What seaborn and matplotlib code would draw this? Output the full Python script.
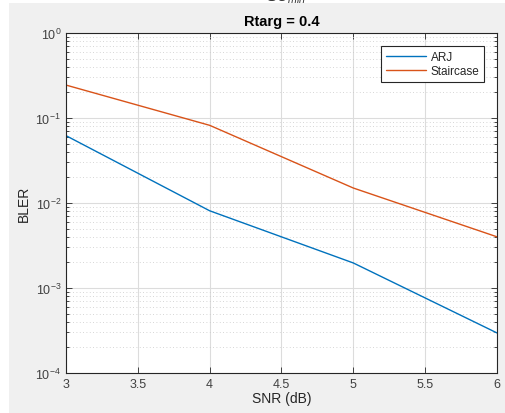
# BLER vs SNR, Rtarg = 0.4 (MATLAB-looking figure)
import numpy as np
import pandas as pd
import matplotlib
matplotlib.use("Agg")
import matplotlib.pyplot as plt
import matplotlib.ticker as mticker
from matplotlib.patches import Rectangle
import seaborn as sns

# data
snr_db = [3, 4, 5, 6]
bler_arj = [0.062, 0.0081, 0.00197, 0.000296]
bler_staircase = [0.244, 0.082, 0.015, 0.0040]
series_names = ["ARJ", "Staircase"]
x_ticks = [3, 3.5, 4, 4.5, 5, 5.5, 6]

df = pd.DataFrame({
    "SNR": snr_db * 2,
    "BLER": bler_arj + bler_staircase,
    "scheme": [series_names[0]] * len(snr_db) + [series_names[1]] * len(snr_db),
})

sns.set_style("ticks")
plt.rcParams["font.family"] = ["Liberation Sans", "DejaVu Sans"]
plt.rcParams["mathtext.fontset"] = "custom"
plt.rcParams["mathtext.rm"] = "Liberation Sans"
plt.rcParams["mathtext.it"] = "Liberation Sans:italic"

fig = plt.figure(figsize=(5.06, 4.14), dpi=100, facecolor="#f0f0f0")
# white strips left / top as in the screenshot
fig.patches.append(Rectangle((0, 0), 9 / 506, 1, transform=fig.transFigure,
                             facecolor="white", edgecolor="none", zorder=0))
fig.patches.append(Rectangle((0, 1 - 4 / 414), 1, 4 / 414, transform=fig.transFigure,
                             facecolor="white", edgecolor="none", zorder=0))
# partly cut-off text at the very top of the screenshot
fig.text(0.565, 1.006, r"$SU_{min}$", ha="center", va="center", fontsize=11,
         color="#333333")

ax = fig.add_axes([66 / 506, 40 / 414, 431 / 506, 340 / 414])
ax.set_facecolor("white")

sns.lineplot(data=df, x="SNR", y="BLER", hue="scheme",
             palette=["#0072BD", "#D95319"], linewidth=1.0, ax=ax)

ax.set_yscale("log")
ax.set_xlim(3, 6)
ax.set_ylim(1e-4, 1)
ax.set_xticks(x_ticks)
ax.xaxis.set_major_formatter(mticker.FuncFormatter(lambda v, p: f"{v:g}"))
ax.yaxis.set_major_locator(mticker.LogLocator(base=10, numticks=10))
ax.yaxis.set_minor_locator(mticker.LogLocator(base=10, subs=np.arange(2, 10), numticks=10))
ax.yaxis.set_minor_formatter(mticker.NullFormatter())

ax.grid(True, which="major", color="#dcdcdc", linewidth=0.8, linestyle="-")
ax.grid(True, which="minor", axis="y", color="#c8c8c8", linewidth=0.6,
        linestyle=(0, (1, 3)))
ax.set_axisbelow(True)

ax.tick_params(which="both", direction="in", top=True, right=True,
               labelsize=9, colors="#262626", labelcolor="#404040", width=0.6)
ax.tick_params(which="major", length=4)
ax.tick_params(which="minor", length=2)
for s in ax.spines.values():
    s.set_color("#262626")
    s.set_linewidth(0.8)

ax.set_xlabel("SNR (dB)", fontsize=10, color="#262626", labelpad=1)
ax.set_ylabel("BLER", fontsize=10, color="#262626", labelpad=3)
ax.set_title("Rtarg = 0.4", fontsize=10.5, fontweight="bold", color="#000000", pad=6)

leg = ax.legend(loc="upper right", bbox_to_anchor=((484 - 66) / 431, (374 - 47) / 340),
                borderaxespad=0, frameon=True, fancybox=False, fontsize=8.5,
                handlelength=3.4, handletextpad=0.4, labelspacing=0.2,
                borderpad=0.4, title=None)
leg.get_frame().set_edgecolor("#262626")
leg.get_frame().set_linewidth(0.8)
leg.get_frame().set_alpha(1)

fig.savefig("out.png", dpi=100, facecolor=fig.get_facecolor())
